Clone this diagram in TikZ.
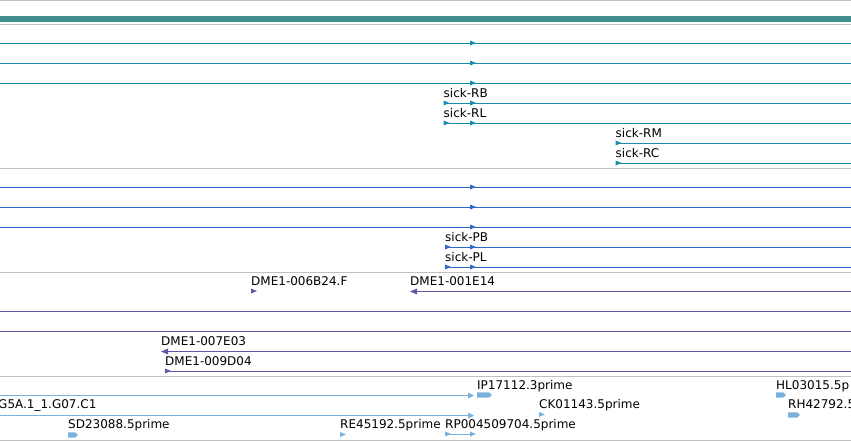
\documentclass[tikz,border=0pt]{standalone}
\usepackage{fontspec}
\setmainfont{DejaVu Sans}
\definecolor{sepgray}{RGB}{192,192,192}
\definecolor{barteal}{RGB}{64,143,143}
\definecolor{tealtx}{RGB}{25,140,172}
\definecolor{bluetx}{RGB}{48,104,200}
\definecolor{purptx}{RGB}{104,84,166}
\definecolor{lbluetx}{RGB}{122,178,222}
\tikzset{
  lab/.style={anchor=base west, inner sep=0pt, text=black, font=\fontsize{12}{14}\selectfont},
  rflag/.pic={\fill (0,-3) -- (0,2) -- (6,-0.5) -- cycle;},
  larrow/.pic={\fill (0,0) -- (7,-3) -- (7,3) -- cycle;},
  rhead/.pic={\fill (-6,-3) -- (0,0) -- (-6,3) -- cycle;},
}
% track line as a 1px-high band: \trk{colour}{x1}{x2}{row}
\newcommand{\trk}[4]{\fill[#1] (#2,#4) rectangle (#3,#4+1.1);}
\newcommand{\rblk}[3]{\fill (#1,#3-2.7) -- (#2-3,#3-2.7) -- (#2,#3) -- (#2-3,#3+2.7) -- (#1,#3+2.7) -- cycle;}
\begin{document}
\begin{tikzpicture}[x=1pt,y=-1pt]
\useasboundingbox (0,0) rectangle (851,441);
\clip (0,0) rectangle (851,441);
% separators
\foreach \yy in {0,24,168,272,376,440} \trk{sepgray}{0}{851}{\yy}
\fill[barteal] (0,16) rectangle (851,22);
% teal transcripts
\begin{scope}[fill=tealtx]
\foreach \yy in {43,63,83} {
  \trk{tealtx}{0}{851}{\yy}
  \pic at (470,\yy+0.5) {rflag};
}
\foreach \yy/\tt in {103/sick-RB,123/sick-RL} {
  \trk{tealtx}{443.5}{851}{\yy}
  \pic at (443.5,\yy+0.5) {rflag};
  \pic at (470,\yy+0.5) {rflag};
  \node[lab] at (443.5,\yy-5.5) {\tt};
}
\foreach \yy/\tt in {143/sick-RM,163/sick-RC} {
  \trk{tealtx}{615.5}{851}{\yy}
  \pic at (615.5,\yy+0.5) {rflag};
  \node[lab] at (615.5,\yy-5.5) {\tt};
}
\end{scope}
% blue transcripts
\begin{scope}[fill=bluetx]
\foreach \yy in {187,207,227} {
  \trk{bluetx}{0}{851}{\yy}
  \pic at (470,\yy+0.5) {rflag};
}
\foreach \yy/\tt in {247/sick-PB,267/sick-PL} {
  \trk{bluetx}{445}{851}{\yy}
  \pic at (445,\yy+0.5) {rflag};
  \pic at (470,\yy+0.5) {rflag};
  \node[lab] at (445,\yy-5.5) {\tt};
}
\end{scope}
% purple
\begin{scope}[fill=purptx]
\pic at (251,291.5) {rflag};
\node[lab] at (251,285.5) {DME1-006B24.F};
\trk{purptx}{414}{851}{291}
\pic at (410,291.5) {larrow};
\node[lab] at (410,285.5) {DME1-001E14};
\trk{purptx}{0}{851}{311}
\trk{purptx}{0}{851}{331}
\trk{purptx}{165}{851}{351}
\pic at (161,351.5) {larrow};
\node[lab] at (161,345.5) {DME1-007E03};
\trk{purptx}{165}{851}{371}
\pic at (165,371.5) {rflag};
\node[lab] at (165,365.5) {DME1-009D04};
\end{scope}
% light blue
\begin{scope}[fill=lbluetx]
\trk{lbluetx}{0}{472}{395}
\pic at (474,395.5) {rhead};
\rblk{477}{492}{395}
\node[lab] at (477,389.5) {IP17112.3prime};
\trk{lbluetx}{0}{472}{415}
\pic at (474,415.5) {rhead};
\node[lab] at (-2,408.5) {G5A.1\_1.G07.C1};
\pic at (539,415) {rflag};
\node[lab] at (539,408.5) {CK01143.5prime};
\rblk{776}{786}{395}
\node[lab] at (776,389.5) {HL03015.5p};
\rblk{788}{800}{415}
\node[lab] at (788,408.5) {RH42792.5};
\rblk{68}{78}{435}
\node[lab] at (68,428.5) {SD23088.5prime};
\pic at (340,435) {rflag};
\node[lab] at (340,428.5) {RE45192.5prime};
\trk{lbluetx}{445}{473}{434}
\pic at (445,434.5) {rflag};
\pic at (470,434.5) {rflag};
\node[lab] at (445,428.5) {RP004509704.5prime};
\end{scope}
\end{tikzpicture}
\end{document}
